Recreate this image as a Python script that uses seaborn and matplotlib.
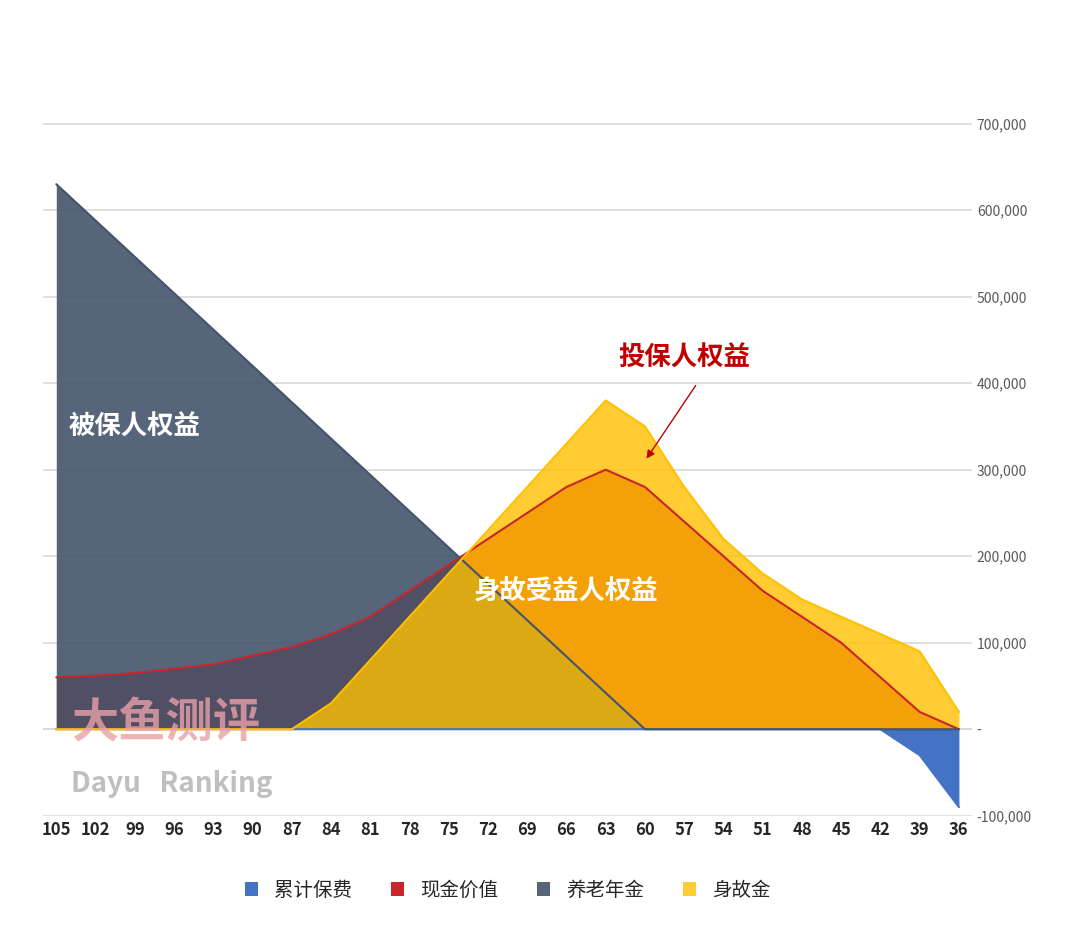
import matplotlib
matplotlib.use("Agg")
import matplotlib.pyplot as plt
import numpy as np
import pandas as pd
import seaborn as sns
from matplotlib.ticker import FuncFormatter

ages = list(range(36, 106, 3))
premium = [-90000, -30000] + [0] * 22
cash_value = [0, 20000, 60000, 100000, 130000, 160000, 200000, 240000, 280000, 300000,
              280000, 250000, 220000, 190000, 160000, 130000, 110000, 95000, 85000, 75000,
              70000, 65000, 62000, 60000]
pension = [0] * 9 + [42000 * i for i in range(1, 16)]
death_benefit = [20000, 90000, 110000, 130000, 150000, 180000, 220000, 280000, 350000, 380000,
                 330000, 280000, 230000, 180000, 130000, 80000, 30000] + [0] * 7

series = {"累计保费": premium, "现金价值": cash_value, "养老年金": pension, "身故金": death_benefit}
colors = {"累计保费": "#4472C4", "现金价值": "#C9252C", "养老年金": "#44546A", "身故金": "#FFC000"}
alphas = {"累计保费": 1.0, "现金价值": 1.0, "养老年金": 0.9, "身故金": 0.8}
order = ["累计保费", "现金价值", "养老年金", "身故金"]

df = pd.DataFrame({"age": ages, **series})
long = df.melt(id_vars="age", var_name="series", value_name="value")

sns.set_theme(style="white")
plt.rcParams["font.family"] = ["Noto Sans CJK SC", "DejaVu Sans"]

fig, ax = plt.subplots(figsize=(10.8, 9.27), dpi=100)
sns.lineplot(data=long, x="age", y="value", hue="series", hue_order=order,
             palette=colors, ax=ax, legend=False, linewidth=1.5)
for name in order:
    ax.fill_between(df["age"], 0, df[name], color=colors[name], alpha=alphas[name],
                    label=name, linewidth=0)

ax.set_xlim(106, 35)
ax.set_ylim(-100000, 800000)
ax.set_xticks(ages)
ax.yaxis.tick_right()
ax.set_yticks(range(-100000, 800000, 100000))
ax.yaxis.set_major_formatter(FuncFormatter(lambda v, p: "-" if v == 0 else f"{int(v):,}"))
ax.tick_params(axis="y", labelsize=10, colors="#595959", length=0)
ax.tick_params(axis="x", labelsize=12, length=0)
for lab in ax.get_xticklabels():
    lab.set_fontweight("bold")
ax.grid(axis="y", color="#D9D9D9", linewidth=1.2)
ax.set_axisbelow(True)
ax.set_xlabel("")
ax.set_ylabel("")
for s in ax.spines.values():
    s.set_visible(False)
ax.axhline(0, color="#D9D9D9", linewidth=1.2, zorder=0)

ax.text(99, 340000, "被保人权益", color="white", fontsize=19, fontweight="bold",
        ha="center", zorder=10)
ax.text(66, 150000, "身故受益人权益", color="white", fontsize=19, fontweight="bold",
        ha="center", zorder=10)
ax.text(57, 420000, "投保人权益", color="#C00000", fontsize=19, fontweight="bold",
        ha="center", zorder=10)
ax.annotate("", xy=(60, 310000), xytext=(56, 400000),
            arrowprops=dict(arrowstyle="-|>", color="#C00000", lw=1), zorder=10)
ax.text(0.03, 0.1, "大鱼测评", transform=ax.transAxes, color="#E8A0A8", fontsize=34,
        fontweight="bold", alpha=0.8, zorder=10)
ax.text(0.03, 0.03, "Dayu   Ranking", transform=ax.transAxes, color="#BFBFBF", fontsize=20,
        fontweight="bold", zorder=10)

ax.legend(loc="upper center", bbox_to_anchor=(0.5, -0.06), ncol=4, frameon=False,
          fontsize=14, handlelength=0.7, handleheight=0.7)
fig.subplots_adjust(left=0.04, right=0.9, top=0.96, bottom=0.12)
fig.savefig("out.png", dpi=100)
